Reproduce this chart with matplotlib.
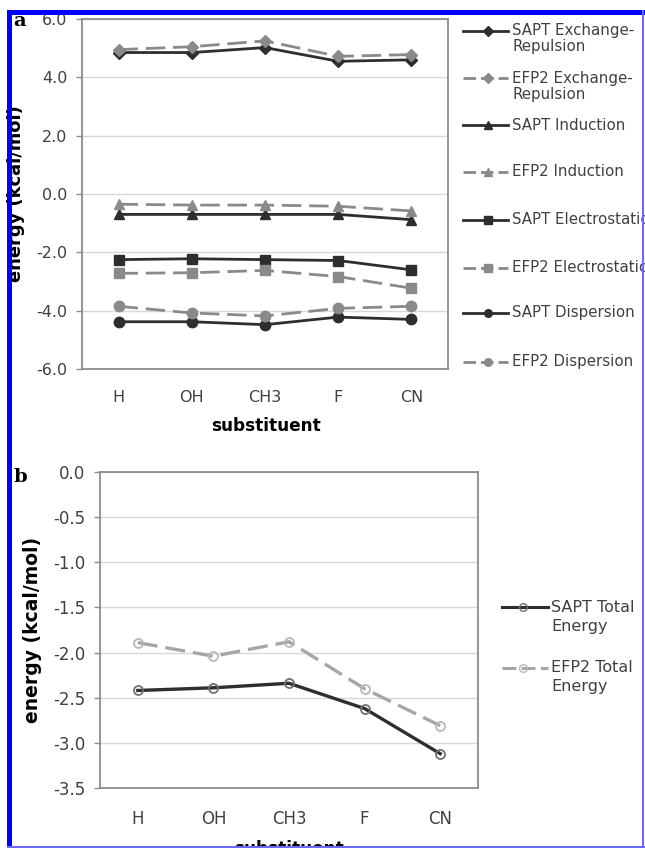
import matplotlib
matplotlib.use("Agg")
import matplotlib.pyplot as plt
import numpy as np
from matplotlib.lines import Line2D
from matplotlib.patches import Rectangle

# ---------------- data ----------------
substituents = ["H", "OH", "CH3", "F", "CN"]

sapt_exch = [4.85, 4.85, 5.02, 4.55, 4.60]
efp2_exch = [4.95, 5.05, 5.25, 4.72, 4.78]
sapt_ind = [-0.70, -0.70, -0.70, -0.70, -0.88]
efp2_ind = [-0.35, -0.38, -0.38, -0.42, -0.58]
sapt_elec = [-2.25, -2.22, -2.25, -2.28, -2.60]
efp2_elec = [-2.72, -2.70, -2.62, -2.83, -3.23]
sapt_disp = [-4.38, -4.38, -4.48, -4.22, -4.30]
efp2_disp = [-3.85, -4.08, -4.18, -3.92, -3.85]

sapt_total = [-2.42, -2.39, -2.34, -2.62, -3.12]
efp2_total = [-1.89, -2.04, -1.88, -2.40, -2.81]

labels_a = [["SAPT Exchange-", "Repulsion"], ["EFP2 Exchange-", "Repulsion"],
            ["SAPT Induction"], ["EFP2 Induction"],
            ["SAPT Electrostatics"], ["EFP2 Electrostatics"],
            ["SAPT Dispersion"], ["EFP2 Dispersion"]]
labels_b = [["SAPT Total", "Energy"], ["EFP2 Total", "Energy"]]

# ---------------- style ----------------
W, H = 645, 848
fig = plt.figure(figsize=(W / 100, H / 100), dpi=100)
plt.rcParams['font.family'] = ['DejaVu Sans']

DARK = "#2e2e2e"
GRAY = "#8a8a8a"
TICKC = "#404040"
FRAME = "#8c8c8c"
GRID = "#d8d8d8"


def px_axes(l, t, r, b):
    return fig.add_axes([l / W, 1 - b / H, (r - l) / W, (b - t) / H])


def style_axes(ax, ylim, step, fs, xpad):
    ax.set_xlim(-0.5, len(substituents) - 0.5)
    ax.set_ylim(*ylim)
    ticks = np.arange(ylim[0], ylim[1] + step / 2, step)
    ax.set_yticks(ticks)
    ax.set_yticklabels([f"{t:.1f}" for t in ticks], fontsize=fs, color=TICKC)
    ax.set_xticks(range(len(substituents)))
    ax.set_xticklabels(substituents, fontsize=fs, color=TICKC)
    ax.tick_params(axis="x", length=0, pad=xpad)
    ax.tick_params(axis="y", length=4, width=1.0, color=FRAME, pad=6.5)
    ax.grid(axis="y", color=GRID, lw=1.0)
    ax.set_axisbelow(True)
    for s in ax.spines.values():
        s.set_color(FRAME)
        s.set_linewidth(1.3)


x = range(len(substituents))

# ---------------- panel a ----------------
ax1 = px_axes(82, 19, 448, 369)
style_axes(ax1, (-6, 6), 2, 11.5, 15)

series_a = [
    (sapt_exch, DARK, "D", False),
    (efp2_exch, GRAY, "D", True),
    (sapt_ind, DARK, "^", False),
    (efp2_ind, GRAY, "^", True),
    (sapt_elec, DARK, "s", False),
    (efp2_elec, GRAY, "s", True),
    (sapt_disp, DARK, "o", False),
    (efp2_disp, GRAY, "o", True),
]
for vals, c, m, dashed in series_a:
    ln, = ax1.plot(x, vals, color=c, lw=2.0, marker=m, ms=7.5 if m != "D" else 6.5,
                   mfc=c, mec=c, zorder=3)
    if dashed:
        ln.set_dashes((7, 2.8))

ax1.set_xlabel("substituent", fontsize=12.2, fontweight="bold")
ax1.xaxis.set_label_coords(0.502, -0.137)
ax1.set_ylabel("energy (kcal/mol)", fontsize=12.9, fontweight="bold")
ax1.yaxis.set_label_coords(-0.156, 0.5)

# legend a (manual, handle aligned with first text line)
leg_y = [31, 78, 125, 172, 220, 268, 313, 362]
for (vals, c, m, dashed), lab, yy in zip(series_a, labels_a, leg_y):
    yf = 1 - yy / H
    l = Line2D([463 / W, 508 / W], [yf, yf], transform=fig.transFigure, color=c, lw=2.0)
    if dashed:
        l.set_dashes((4.5, 1.8))
    fig.add_artist(l)
    fig.add_artist(Line2D([488 / W], [yf], transform=fig.transFigure, color=c,
                          marker=m, ms=5.5, mfc=c, mec=c, lw=0))
    for i, line in enumerate(lab):
        fig.text(512 / W, 1 - (yy + 16 * i) / H, line, fontsize=10.8, color=TICKC,
                 va="center", ha="left")

# ---------------- panel b ----------------
ax2 = px_axes(100, 472, 478, 788)
style_axes(ax2, (-3.5, 0.0), 0.5, 12, 16)

l1, = ax2.plot(x, sapt_total, color=DARK, lw=2.4, marker="o", ms=6.5,
               mfc="none", mec="#707070", mew=1.3, zorder=3)
l2, = ax2.plot(x, efp2_total, color="#a6a6a6", lw=2.4, marker="o", ms=6.5,
               mfc="none", mec="#b8b8b8", mew=1.3, zorder=3)
l2.set_dashes((6, 2.4))

ax2.set_xlabel("substituent", fontsize=12.2, fontweight="bold")
ax2.xaxis.set_label_coords(0.5, -0.165)
ax2.set_ylabel("energy (kcal/mol)", fontsize=13.5, fontweight="bold")
ax2.yaxis.set_label_coords(-0.153, 0.5)

for (c, mec, dashed), lab, yy in zip([(DARK, "#707070", False), ("#a6a6a6", "#b8b8b8", True)],
                                     labels_b, [607, 668]):
    yf = 1 - yy / H
    l = Line2D([502 / W, 548 / W], [yf, yf], transform=fig.transFigure, color=c, lw=2.2)
    if dashed:
        l.set_dashes((4.5, 1.8))
    fig.add_artist(l)
    fig.add_artist(Line2D([523 / W], [yf], transform=fig.transFigure, color=c,
                          marker="o", ms=5.5, mfc="none", mec=mec, lw=0))
    for i, line in enumerate(lab):
        fig.text(551 / W, 1 - (yy + 19 * i) / H, line, fontsize=11.5, color=TICKC,
                 va="center", ha="left")

# ---------------- panel letters ----------------
fig.text(13 / W, 1 - 26 / H, "a", fontsize=14, fontweight="bold",
         family="DejaVu Serif", ha="left", va="baseline")
fig.text(13 / W, 1 - 482 / H, "b", fontsize=14, fontweight="bold",
         family="DejaVu Serif", ha="left", va="baseline")

# ---------------- blue frame ----------------
BLUE = "#0000ff"
fig.add_artist(Rectangle((7 / W, 0), 5 / W, 1 - 10 / H, transform=fig.transFigure,
                         color=BLUE, lw=0, zorder=10))
fig.add_artist(Rectangle((7 / W, 1 - 15 / H), 1 - 7 / W, 5 / H, transform=fig.transFigure,
                         color=BLUE, lw=0, zorder=10))
fig.add_artist(Rectangle((642 / W, 0), 2 / W, 1 - 10 / H, transform=fig.transFigure,
                         color="#6a6aff", lw=0, zorder=10))
fig.add_artist(Rectangle((7 / W, 0), 1 - 7 / W, 2 / H, transform=fig.transFigure,
                         color="#6a6aff", lw=0, zorder=10))

fig.savefig("out.png", dpi=100)
